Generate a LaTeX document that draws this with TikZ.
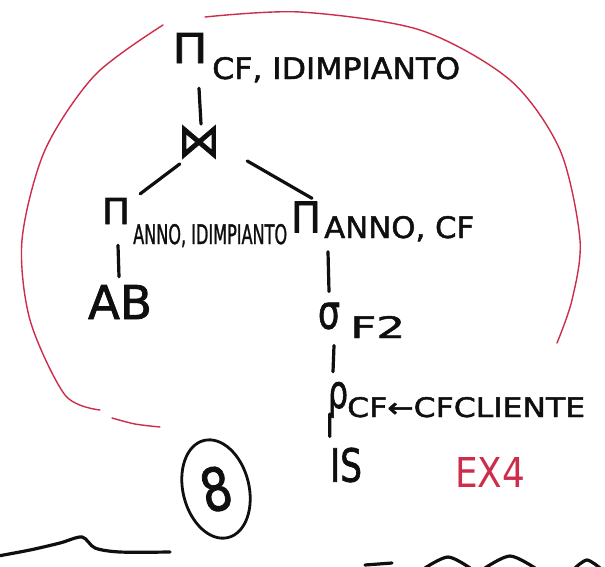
\documentclass[tikz,border=0pt]{standalone}
\usepackage{fontspec}
\setmainfont{DejaVu Sans}
\newfontfamily\penfont{DejaVu Sans}[FakeBold=1.6]
\usepackage{graphicx}
\usetikzlibrary{calc,shapes.geometric}
\definecolor{pen}{RGB}{15,15,15}
\definecolor{redpen}{RGB}{205,45,75}
\newcommand{\hwfit}[3]{\resizebox{#1pt}{#2pt}{\penfont #3}}
\begin{document}
\begin{tikzpicture}[x=1pt,y=-1pt,
  txt/.style={inner sep=0pt, text=pen},
  edge/.style={draw=pen, line width=3.2pt, line cap=round},
  redline/.style={draw=redpen, line width=1.4pt, line cap=round}]
\useasboundingbox (0,0) rectangle (605,566);
\fill[white] (0,0) rectangle (605,566);

% nodes
\node[txt] (pi1) at (190,48) {\hwfit{35}{30}{Π}};
\node[txt, anchor=base west] (s1) at (212,79) {\hwfit{248}{22}{CF, IDIMPIANTO}};
\node[txt] (join) at (199,142) {\hwfit{42}{32}{⋈}};
\node[txt] (pi2) at (116,211) {\hwfit{28}{26}{Π}};
\node[txt, anchor=base west] (s2) at (133,244) {\hwfit{154}{20}{ANNO, IDIMPIANTO}};
\node[txt] (pi3) at (306,217) {\hwfit{30}{31}{Π}};
\node[txt, anchor=base west] (s3) at (324,238) {\hwfit{150}{22}{ANNO, CF}};
\node[txt] (ab) at (120,302) {\hwfit{64}{34}{AB}};
\node[txt] (sig) at (329,316) {\hwfit{22}{26}{σ}};
\node[txt, anchor=base west] (s4) at (350,338) {\hwfit{55}{22}{F2}};
\node[txt, anchor=base] (rho) at (338,408) {\hwfit{20}{26}{ρ}};
\node[txt, anchor=base west] (s5) at (347,417) {\hwfit{238}{20}{CF←CFCLIENTE}};
\node[txt] (is) at (346,465) {\hwfit{32}{34}{IS}};
\node[txt, draw=pen, line width=2.8pt, ellipse, minimum width=66pt, minimum height=100pt, rotate=14] (eight) at (216,489) {\hwfit{30}{44}{8}};
\node[txt, text=redpen] (ex) at (490,472) {\resizebox{70pt}{30pt}{EX4}};

% connectors
\draw[edge] ($(pi1.south)+(9,25)$) -- ($(join.north)+(2,-1)$);
\draw[edge] ($(join.south west)+(2,5)$) -- ($(pi2.north east)+(10,-4)$);
\draw[edge] ($(join.south east)+(27,2)$) -- ($(pi3.north)+(6,-3)$);
\draw[edge] ($(pi2.south)+(2,21)$) -- ($(ab.north)+(-1,-8)$);
\draw[edge] ($(pi3.south)+(22,19)$) -- ($(sig.north)+(0,-11)$);
\draw[edge] ($(sig.south)+(5,16)$) -- ($(rho.north)+(-5,-10)$);
\draw[edge] ($(rho.south west)+(2,-4)$) -- ($(is.north west)+(0,-11)$);

% red enclosing curve
\draw[redline] plot[smooth] coordinates {(163,25) (95,75) (45,150) (22,240) (30,320) (65,395) (100,410)};
\draw[redline] plot[smooth] coordinates {(112,418) (135,424) (160,427)};
\draw[redline] plot[smooth] coordinates {(205,17) (300,12) (420,30) (510,80) (560,150) (580,240) (572,300) (557,343)};

% bottom strokes (cut off)
\draw[edge] plot[smooth] coordinates {(-2,556) (30,550) (60,543) (82,537) (95,548) (120,552) (170,552)};
\draw[edge] (365,565) -- (392,563);
\draw[edge] plot[smooth] coordinates {(425,568) (448,557) (470,568)};
\draw[edge] plot[smooth] coordinates {(485,568) (510,556) (535,568)};
\draw[edge] plot[smooth] coordinates {(575,568) (587,560) (600,568)};
\end{tikzpicture}
\end{document}
